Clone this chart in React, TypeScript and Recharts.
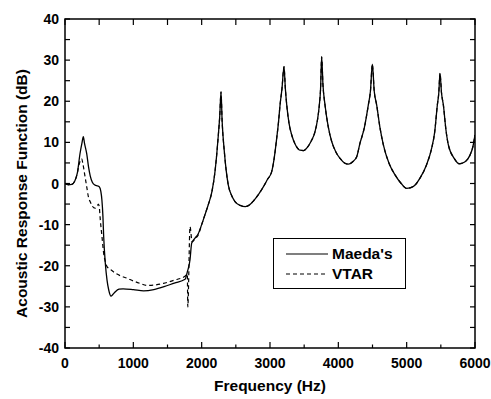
import { LineChart, Line, XAxis, YAxis, Legend, usePlotArea } from 'recharts';

// frequency (Hz), level (dB) pairs
const maedaLow: [number, number][] = [
  [0, 0], [50, -0.3], [100, -0.2], [140, 0.5], [180, 2.5], [220, 7.3], [250, 10],
  [268, 11.4], [285, 9.8], [317, 7.3], [345, 4], [370, 1.8], [400, 0.3], [440, -0.4],
  [480, -0.6], [505, -0.9], [525, -2], [540, -4], [555, -8], [566, -12.9], [590, -19.4],
  [615, -23.5], [640, -25.9], [673, -27.4], [700, -27], [737, -26.3], [790, -25.7],
  [850, -25.6], [1000, -25.8], [1150, -26.1], [1300, -25.8], [1450, -25.1],
  [1600, -24.2], [1757, -23.3], [1790, -21.5], [1829, -18.6], [1854, -14.5],
  [1903, -13.3], [1950, -12.2],
];

const vtarLow: [number, number][] = [
  [0, 0], [50, -0.3], [100, -0.2], [140, 0.5], [180, 2.5], [200, 4.2], [225, 5.6],
  [244, 6], [265, 4.5], [293, 1.7], [320, -1], [342, -3.2], [371, -4.5], [400, -5.5],
  [440, -6], [470, -5.5], [488, -5], [500, -5.5], [517, -8.9], [541, -12.9],
  [566, -17], [590, -19], [615, -20.2], [659, -20.8], [737, -21.8], [820, -22.5],
  [903, -23], [1000, -23.7], [1100, -24.3], [1200, -24.8], [1300, -24.7],
  [1440, -24.3], [1600, -23.5], [1760, -22.5], [1790, -22], [1797, -30],
  [1830, -10.5], [1860, -14.2], [1900, -13.5], [1950, -12.5],
];

// above ~2 kHz both curves lie on top of each other
const highBand: [number, number][] = [
  [2000, -10], [2050, -7.5], [2100, -5], [2150, -2], [2195, 2.9], [2220, 7],
  [2244, 11.8], [2265, 16.5], [2283, 22.3], [2300, 15], [2332, 7.7], [2360, 3],
  [2390, -0.4], [2440, -3], [2488, -4.4], [2560, -5.3], [2640, -5.6], [2700, -5.2],
  [2760, -4.2], [2830, -2.7], [2900, -0.9], [2960, 0.9], [3025, 2.9], [3060, 6],
  [3098, 11], [3125, 15], [3147, 19.1], [3175, 23], [3205, 28.4], [3225, 23],
  [3245, 19.1], [3280, 14.5], [3318, 11.8], [3370, 9.5], [3439, 8.1], [3490, 8],
  [3537, 8.6], [3600, 10.2], [3659, 12.6], [3695, 15.5], [3722, 19.1], [3740, 23],
  [3756, 30.8], [3775, 24], [3805, 19.1], [3850, 14], [3903, 10.2], [3960, 7.8],
  [4025, 6.1], [4090, 5], [4147, 4.7], [4210, 5.3], [4269, 6.5], [4317, 9.8],
  [4380, 13.5], [4439, 19.1], [4470, 22.5], [4498, 29], [4525, 22.5], [4561, 19.1],
  [4610, 13.5], [4659, 9.4], [4740, 5], [4830, 2.1], [4920, 0], [5000, -1.2],
  [5100, -0.7], [5195, 1.3], [5290, 4.5], [5366, 8.6], [5410, 12.5], [5449, 19.1],
  [5470, 22], [5488, 26.8], [5510, 22], [5537, 19.1], [5575, 13], [5610, 9.4],
  [5700, 6], [5770, 4.8], [5805, 4.9], [5870, 5.5], [5927, 6.9], [5970, 9],
  [6000, 11.8],
];

const xTicks = [0, 500, 1000, 1500, 2000, 2500, 3000, 3500, 4000, 4500, 5000, 5500, 6000];
const yTicks = [-40, -35, -30, -25, -20, -15, -10, -5, 0, 5, 10, 15, 20, 25, 30, 35, 40];

const toRows = (pts: [number, number][]) => pts.map(([f, db]) => ({ f, db }));
const maeda = toRows([...maedaLow, ...highBand]);
const vtar = toRows([...vtarLow, ...highBand]);

const FONT = '"Liberation Sans", Arial, Helvetica, sans-serif';
const INK = '#000';

// box round the plot area
const Frame = () => {
  const p = usePlotArea();
  if (!p) return null;
  return <rect x={p.x} y={p.y} width={p.width} height={p.height} fill="none" stroke={INK} strokeWidth={1.5} />;
};

const BottomTick = ({ x, y, payload }: any) => {
  const major = payload.value % 1000 === 0;
  return (
    <g>
      <line x1={x} y1={y} x2={x} y2={y - (major ? 6 : 3.5)} stroke={INK} strokeWidth={1.2} />
      {major && (
        <text x={x} y={y + 19.5} textAnchor="middle" fontFamily={FONT} fontWeight="bold" fontSize={14} fill={INK}>
          {payload.value}
        </text>
      )}
    </g>
  );
};

const TopTick = ({ x, y }: any) => (
  <line x1={x} y1={y} x2={x} y2={y + 6} stroke={INK} strokeWidth={1.2} />
);

const LeftTick = ({ x, y, payload }: any) => {
  const major = payload.value % 10 === 0;
  return (
    <g>
      <line x1={x} y1={y} x2={x + 5} y2={y} stroke={INK} strokeWidth={1.2} />
      {major && (
        <text x={x - 6} y={y + 5} textAnchor="end" fontFamily={FONT} fontWeight="bold" fontSize={14} fill={INK}>
          {payload.value}
        </text>
      )}
    </g>
  );
};

const RightTick = ({ x, y }: any) => (
  <line x1={x} y1={y} x2={x - 5} y2={y} stroke={INK} strokeWidth={1.2} />
);

const YTitle = ({ viewBox }: any) => {
  const cx = viewBox.x + 26.5;
  const cy = viewBox.y + viewBox.height / 2 + 10;
  return (
    <text x={cx} y={cy} transform={`rotate(-90, ${cx}, ${cy})`} textAnchor="middle"
      fontFamily={FONT} fontWeight="bold" fontSize={15.5} fill={INK}>
      Acoustic Response Function (dB)
    </text>
  );
};

const XTitle = ({ viewBox }: any) => (
  <text x={viewBox.x + viewBox.width / 2} y={viewBox.y + 43} textAnchor="middle"
    fontFamily={FONT} fontWeight="bold" fontSize={15.5} fill={INK}>
    Frequency (Hz)
  </text>
);

const LegendBox = () => (
  <div style={{ width: 131, height: 49, border: `1px solid ${INK}`, background: '#fff', position: 'relative', fontFamily: FONT, fontWeight: 'bold', fontSize: 15.5, color: INK }}>
    {[
      { name: "Maeda's", dash: undefined, top: 6 },
      { name: 'VTAR', dash: '4 3', top: 26 },
    ].map((it) => (
      <div key={it.name} style={{ position: 'absolute', left: 12, top: it.top, height: 18, display: 'flex', alignItems: 'center' }}>
        <svg width={42} height={4} style={{ marginRight: 4 }}>
          <line x1={0} y1={2} x2={42} y2={2} stroke={INK} strokeWidth={1.2} strokeDasharray={it.dash} />
        </svg>
        <span>{it.name}</span>
      </div>
    ))}
  </div>
);

export default function App() {
  return (
    <div style={{ position: 'absolute', left: 0, top: 0, background: '#fff' }}>
      <LineChart width={491} height={399} margin={{ top: 18, right: 15, bottom: 0, left: 0 }}>
        <XAxis xAxisId="b" dataKey="f" type="number" domain={[0, 6000]} ticks={xTicks} allowDataOverflow
          interval={0} height={51} tickSize={0} tickMargin={0} tickLine={false}
          axisLine={false} tick={(p: any) => <BottomTick {...p} />}
          label={<XTitle />} />
        <XAxis xAxisId="t" orientation="top" dataKey="f" type="number" domain={[0, 6000]} ticks={xTicks}
          allowDataOverflow interval={0} height={1} tickSize={0} tickMargin={0} tickLine={false}
          axisLine={false} tick={(p: any) => <TopTick {...p} />} />
        <YAxis yAxisId="l" type="number" domain={[-40, 40]} ticks={yTicks} allowDataOverflow interval={0}
          width={65} tickSize={0} tickMargin={0} tickLine={false}
          axisLine={false} tick={(p: any) => <LeftTick {...p} />}
          label={<YTitle />} />
        <YAxis yAxisId="r" orientation="right" type="number" domain={[-40, 40]} ticks={yTicks}
          allowDataOverflow interval={0} width={1} tickSize={0} tickMargin={0} tickLine={false}
          axisLine={false} tick={(p: any) => <RightTick {...p} />} />
        <Frame />
        <Legend layout="horizontal" verticalAlign="middle" align="center" content={<LegendBox />}
          wrapperStyle={{ left: 273, top: 238, width: 133, height: 51 }} />
        <Line xAxisId="b" yAxisId="l" data={vtar} dataKey="db" name="VTAR" type="monotone" stroke={INK}
          strokeWidth={1.2} strokeDasharray="4 3" dot={false} isAnimationActive={false} />
        <Line xAxisId="b" yAxisId="l" data={maeda} dataKey="db" name="Maeda's" type="monotone" stroke={INK}
          strokeWidth={1.3} dot={false} isAnimationActive={false} />
      </LineChart>
    </div>
  );
}
